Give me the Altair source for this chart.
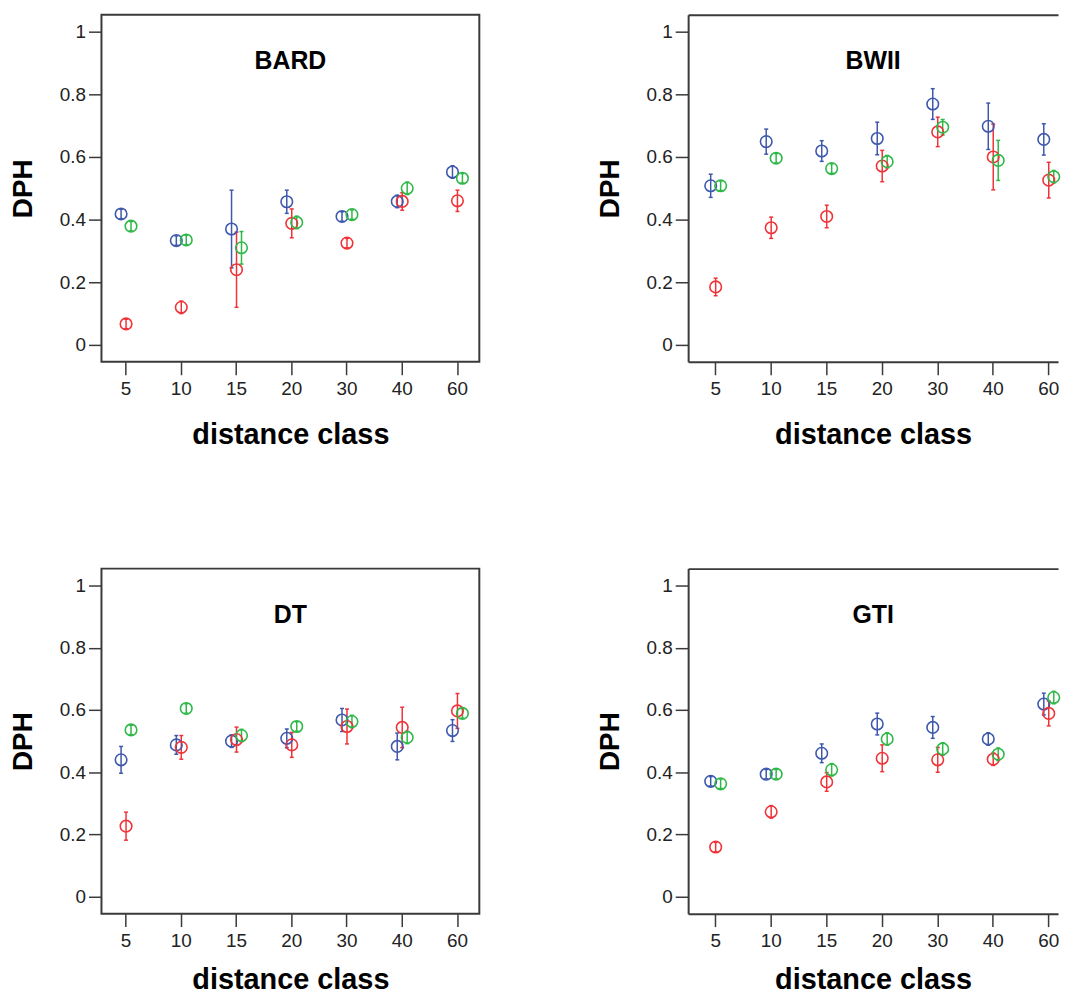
import altair as alt
import pandas as pd

dist_classes = ["5", "10", "15", "20", "30", "40", "60"]
panels = ["BARD", "BWII", "DT", "GTI"]
groups = ["Group 1", "Group 2", "Group 3"]
group_colors = ["#3E58AC", "#EF3338", "#2EB848"]

# BARD
bard_g1 = [0.418, 0.333, 0.370, 0.457, 0.410, 0.458, 0.552]
bard_g1_err = [0.015, 0.015, 0.124, 0.037, 0.015, 0.020, 0.020]
bard_g2 = [0.067, 0.120, 0.240, 0.388, 0.325, 0.458, 0.460]
bard_g2_err = [0.015, 0.020, 0.120, 0.046, 0.015, 0.028, 0.034]
bard_g3 = [0.379, 0.335, 0.310, 0.391, 0.416, 0.500, 0.532]
bard_g3_err = [0.015, 0.015, 0.052, 0.020, 0.015, 0.020, 0.015]

# BWII
bwii_g1 = [0.508, 0.649, 0.619, 0.659, 0.769, 0.698, 0.656]
bwii_g1_err = [0.037, 0.040, 0.033, 0.052, 0.049, 0.074, 0.050]
bwii_g2 = [0.185, 0.374, 0.410, 0.571, 0.680, 0.600, 0.526]
bwii_g2_err = [0.028, 0.034, 0.036, 0.050, 0.047, 0.105, 0.057]
bwii_g3 = [0.508, 0.596, 0.563, 0.585, 0.695, 0.589, 0.537]
bwii_g3_err = [0.015, 0.015, 0.015, 0.020, 0.025, 0.064, 0.020]

# DT
dt_g1 = [0.440, 0.488, 0.500, 0.509, 0.568, 0.483, 0.534]
dt_g1_err = [0.043, 0.030, 0.020, 0.030, 0.037, 0.043, 0.035]
dt_g2 = [0.227, 0.480, 0.505, 0.488, 0.547, 0.544, 0.597]
dt_g2_err = [0.045, 0.038, 0.040, 0.040, 0.056, 0.065, 0.056]
dt_g3 = [0.536, 0.605, 0.518, 0.547, 0.563, 0.512, 0.589]
dt_g3_err = [0.015, 0.015, 0.020, 0.015, 0.020, 0.020, 0.015]

# GTI
gti_g1 = [0.371, 0.394, 0.461, 0.555, 0.544, 0.507, 0.619]
gti_g1_err = [0.015, 0.015, 0.030, 0.035, 0.035, 0.020, 0.035]
gti_g2 = [0.160, 0.273, 0.369, 0.445, 0.440, 0.442, 0.589]
gti_g2_err = [0.015, 0.020, 0.030, 0.043, 0.040, 0.020, 0.040]
gti_g3 = [0.363, 0.394, 0.408, 0.507, 0.475, 0.458, 0.640]
gti_g3_err = [0.015, 0.015, 0.020, 0.020, 0.020, 0.020, 0.020]

series = {
    "BARD": [(bard_g1, bard_g1_err), (bard_g2, bard_g2_err), (bard_g3, bard_g3_err)],
    "BWII": [(bwii_g1, bwii_g1_err), (bwii_g2, bwii_g2_err), (bwii_g3, bwii_g3_err)],
    "DT": [(dt_g1, dt_g1_err), (dt_g2, dt_g2_err), (dt_g3, dt_g3_err)],
    "GTI": [(gti_g1, gti_g1_err), (gti_g2, gti_g2_err), (gti_g3, gti_g3_err)],
}

rows = []
for p in panels:
    for g, (means, errs) in zip(groups, series[p]):
        for d, m, e in zip(dist_classes, means, errs):
            rows.append({"panel": p, "dist": d, "group": g, "mean": m,
                         "lo": m - e, "hi": m + e})
df = pd.DataFrame(rows)

FONT = "Liberation Sans"
AX = "#3a3a3a"

yscale = alt.Scale(domain=[-0.054, 1.054], nice=False, zero=False)


def y_axis(domain):
    return alt.Axis(values=[0, 0.2, 0.4, 0.6, 0.8, 1], format="~g", tickSize=13,
                    tickWidth=1.5, tickColor=AX, labelFontSize=19, labelPadding=3,
                    labelColor="#222", titleFontSize=28, titleFontWeight="bold",
                    titlePadding=22, titleColor="#000", domain=domain,
                    domainColor=AX, domainWidth=2, grid=False,
                    labelFont=FONT, titleFont=FONT)


def x_axis(domain, title_pad):
    return alt.Axis(labelAngle=0, tickSize=13, tickWidth=1.5, tickColor=AX,
                    labelFontSize=19, labelPadding=5, labelColor="#222",
                    titleFontSize=29, titleFontWeight="bold", titlePadding=title_pad,
                    titleColor="#000", domain=domain, domainColor=AX, domainWidth=2,
                    grid=False, labelFont=FONT, titleFont=FONT)


def panel(name, right, title_pad, height):
    if right:
        width = 372
        xscale = alt.Scale(type="band", domain=dist_classes, paddingInner=0.73,
                           paddingOuter=0.1965, align=0.92)
    else:
        width = 380
        xscale = alt.Scale(type="band", domain=dist_classes, paddingInner=0.73,
                           paddingOuter=0.2855, align=0.543)
    yax = y_axis(right)
    x_main = alt.X("dist:N", sort=dist_classes, title="distance class",
                   scale=xscale, axis=x_axis(right, title_pad))
    base = alt.Chart(df).transform_filter(alt.datum.panel == name).encode(
        x=x_main,
        xOffset=alt.XOffset("group:N", sort=groups,
                            scale=alt.Scale(domain=groups, paddingInner=0,
                                            paddingOuter=0)),
        color=alt.Color("group:N", scale=alt.Scale(domain=groups, range=group_colors),
                        legend=None),
    )
    rules = base.mark_rule(strokeWidth=1.5).encode(
        y=alt.Y("lo:Q", scale=yscale, axis=yax, title="DPH"),
        y2="hi:Q")
    cap_lo = base.mark_tick(orient="horizontal", size=4, thickness=1.5, opacity=1).encode(
        y=alt.Y("lo:Q", scale=yscale, axis=yax, title="DPH"))
    cap_hi = base.mark_tick(orient="horizontal", size=4, thickness=1.5, opacity=1).encode(
        y=alt.Y("hi:Q", scale=yscale, axis=yax, title="DPH"))
    pts = base.mark_point(shape="circle", filled=False, size=135, strokeWidth=1.6,
                          opacity=1).encode(
        y=alt.Y("mean:Q", scale=yscale, axis=yax, title="DPH"))
    inner = alt.layer(rules, cap_lo, cap_hi, pts)
    title = alt.TitleParams(name, fontSize=25, fontWeight="bold", font=FONT,
                            color="#000", anchor="middle", frame="group",
                            offset=-80, baseline="alphabetic")
    if not right:
        return inner.properties(width=width, height=height, title=title)
    # right-hand panels are cut off at the window edge: no right frame line,
    # the top frame line is drawn as a label-less top axis
    top_line = alt.Chart(df).transform_filter(alt.datum.panel == name).mark_point(
        opacity=0).encode(
        x=alt.X("dist:N", sort=dist_classes, scale=xscale,
                axis=alt.Axis(orient="top", labels=False, ticks=False, title=None,
                              domain=True, domainColor=AX, domainWidth=2,
                              grid=False)),
        y=alt.Y("mean:Q", scale=yscale, axis=yax, title="DPH"))
    return alt.layer(inner, top_line).resolve_axis(x="independent").properties(
        width=width, height=height, title=title,
        view=alt.ViewBackground(stroke="transparent"))


chart = alt.concat(panel("BARD", False, 22, 349), panel("BWII", True, 22, 349),
                   panel("DT", False, 15, 347), panel("GTI", True, 15, 347),
                   columns=2, spacing={"row": 208, "column": 210},
                   bounds="flush").properties(
    padding={"left": 0, "top": 3, "right": 0, "bottom": 0}
).configure(font=FONT).configure_view(stroke=AX, strokeWidth=2)

chart.save("out.html", embed_options={"renderer": "svg", "actions": False})
